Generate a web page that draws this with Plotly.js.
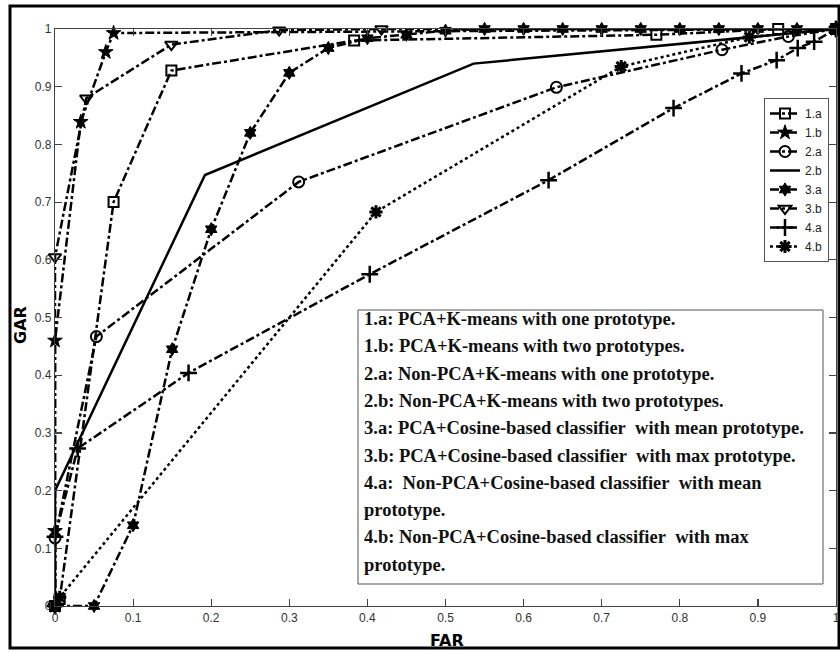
<!DOCTYPE html>
<html>
<head>
<meta charset="utf-8">
<script src="https://cdn.plot.ly/plotly-3.0.1.min.js"></script>
<style>html,body{margin:0;padding:0;background:#fff;}#chart{width:840px;height:652px;}</style>
</head>
<body>
<div id="chart"></div>
<script>
// ---- data ----
const names = ["1.a", "1.b", "2.a", "2.b", "3.a", "3.b", "4.a", "4.b"];

const x1a = [0, 0.006, 0.075, 0.149, 0.383, 0.77, 0.926, 1];
const y1a = [0, 0.012, 0.70, 0.928, 0.98, 0.99, 1.0, 1.0];

const x1b = [0, 0, 0, 0.033, 0.065, 0.075, 1];
const y1b = [0, 0.13, 0.46, 0.839, 0.96, 0.993, 1.0];

const x2a = [0, 0, 0.053, 0.312, 0.642, 0.854, 0.939, 1];
const y2a = [0, 0.118, 0.467, 0.735, 0.899, 0.964, 0.987, 1.0];

const x2b = [0, 0, 0.192, 0.536, 1];
const y2b = [0, 0.2, 0.747, 0.94, 1.0];

const x3a = [0, 0.05, 0.1, 0.15, 0.2, 0.25, 0.3, 0.35, 0.4, 0.45, 0.5, 0.55, 0.6, 0.65, 0.7, 0.75, 0.8, 0.85, 0.9, 0.95, 1];
const y3a = [0, 0, 0.14, 0.445, 0.653, 0.82, 0.924, 0.967, 0.984, 0.99, 0.997, 1, 1, 1, 1, 1, 1, 1, 1, 1, 1];

const x3b = [0, 0, 0.04, 0.149, 0.287, 0.418, 1];
const y3b = [0, 0.605, 0.88, 0.973, 0.998, 1.0, 1.0];

const x4a = [0, 0, 0.029, 0.171, 0.403, 0.632, 0.792, 0.879, 0.924, 0.951, 0.972, 1];
const y4a = [0, 0.12, 0.273, 0.404, 0.575, 0.738, 0.863, 0.923, 0.946, 0.967, 0.978, 1.0];

const x4b = [0, 0.006, 0.411, 0.725, 0.889, 1];
const y4b = [0, 0.015, 0.683, 0.935, 0.986, 1.0];

const xTicks = [0, 0.1, 0.2, 0.3, 0.4, 0.5, 0.6, 0.7, 0.8, 0.9, 1];
const xTickText = ["0", "0.1", "0.2", "0.3", "0.4", "0.5", "0.6", "0.7", "0.8", "0.9", "1"];
const yTicks = [0, 0.1, 0.2, 0.3, 0.4, 0.5, 0.6, 0.7, 0.8, 0.9, 1];
const yTickText = ["0", "0.1", "0.2", "0.3", "0.4", "0.5", "0.6", "0.7", "0.8", "0.9", "1"];

const noteLines = [
  "1.a: PCA+K-means with one prototype.",
  "1.b: PCA+K-means with two prototypes.",
  "2.a: Non-PCA+K-means with one prototype.",
  "2.b: Non-PCA+K-means with two prototypes.",
  "3.a: PCA+Cosine-based classifier&nbsp; with mean prototype.",
  "3.b: PCA+Cosine-based classifier&nbsp; with max prototype.",
  "4.a:&nbsp; Non-PCA+Cosine-based classifier&nbsp; with mean",
  "prototype.",
  "4.b: Non-PCA+Cosine-based classifier&nbsp; with max",
  "prototype."
];

// ---- layout helpers (pixel -> paper) ----
const L = 55, R = 4, T = 29, B = 46, W = 840, H = 652;
const pw = W - L - R, ph = H - T - B;
const px = p => (p - L) / pw;
const py = p => (H - B - p) / ph;

const K = "#000";
function tr(name, x, y, dash, width, symbol, size, mlw) {
  const t = {
    type: "scatter", name: name, x: x, y: y, cliponaxis: false,
    mode: symbol ? "lines+markers" : "lines",
    line: {color: K, dash: dash, width: width}
  };
  if (symbol) t.marker = {symbol: symbol, size: size, color: K, line: {color: K, width: mlw}};
  return t;
}

const data = [
  tr(names[0], x1a, y1a, "dashdot", 2.5, "square-open", 10, 2),
  tr(names[1], x1b, y1b, "dashdot", 2.5, "star", 11, 1),
  tr(names[2], x2a, y2a, "dashdot", 2.5, "circle-open", 11, 2),
  tr(names[3], x2b, y2b, "solid", 2.5, null),
  tr(names[4], x3a, y3a, "dashdot", 2.5, "hexagram", 10, 1),
  tr(names[5], x3b, y3b, "dashdot", 2.5, "triangle-down-open", 11, 2),
  tr(names[6], x4a, y4a, "dashdot", 2.5, "cross-thin-open", 12, 2.5),
  tr(names[7], x4b, y4b, "dot", 2.5, "asterisk-open", 11, 3)
];

const annotations = noteLines.map((t, i) => ({
  xref: "paper", yref: "paper", x: px(362), y: py(319 + 27.3 * i),
  xanchor: "left", yanchor: "middle", showarrow: false, align: "left",
  text: t, font: {family: "Liberation Serif, DejaVu Serif, serif", size: 18.5, color: "#111", weight: "bold"}
}));
annotations.push({
  xref: "paper", yref: "paper", x: px(447), y: py(640), xanchor: "center", yanchor: "middle",
  showarrow: false, text: "<b>FAR</b>", font: {family: "DejaVu Sans, sans-serif", size: 16, color: "#000"}
});
annotations.push({
  xref: "paper", yref: "paper", x: px(20), y: py(325), xanchor: "center", yanchor: "middle",
  showarrow: false, textangle: -90, text: "<b>GAR</b>", font: {family: "DejaVu Sans, sans-serif", size: 16, color: "#000"}
});

const axisCommon = {
  range: [0, 1], showgrid: false, zeroline: false, showline: true, linecolor: "#444", linewidth: 1.2,
  mirror: "ticks", ticks: "inside", ticklen: 7, tickcolor: "#444", tickwidth: 1.2,
  tickfont: {family: "Liberation Sans Narrow, Liberation Sans, sans-serif", size: 12, color: "#333"},
  fixedrange: true
};

const layout = {
  width: W, height: H,
  margin: {l: L, r: R, t: T, b: B, pad: 0},
  paper_bgcolor: "#fff", plot_bgcolor: "#fff",
  showlegend: true,
  legend: {
    x: px(829), y: py(98), xanchor: "right", yanchor: "top",
    bgcolor: "#fff", bordercolor: "#555", borderwidth: 1,
    font: {family: "Liberation Sans Narrow, Liberation Sans, sans-serif", size: 12, color: "#222"},
    itemwidth: 30, tracegroupgap: 0
  },
  xaxis: Object.assign({}, axisCommon, {tickvals: xTicks, ticktext: xTickText}),
  yaxis: Object.assign({}, axisCommon, {tickvals: yTicks, ticktext: yTickText}),
  annotations: annotations,
  shapes: [
    {type: "rect", xref: "paper", yref: "paper", x0: px(358), x1: px(823), y0: py(584), y1: py(310),
     line: {color: "#555", width: 1}, fillcolor: "rgba(255,255,255,0)", layer: "above"},
    {type: "rect", xref: "paper", yref: "paper", x0: px(10), x1: px(839), y0: py(648), y1: py(6),
     line: {color: "#000", width: 3}, fillcolor: "rgba(0,0,0,0)"}
  ]
};

Plotly.newPlot("chart", data, layout, {displayModeBar: false, staticPlot: true});
</script>
</body>
</html>
